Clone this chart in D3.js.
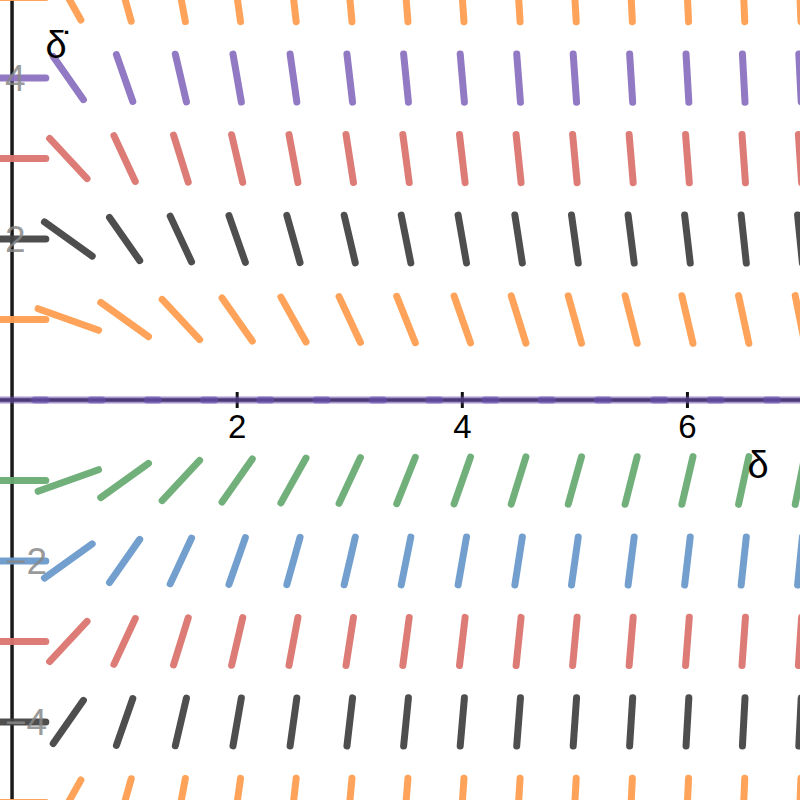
<!DOCTYPE html>
<html>
<head>
<meta charset="utf-8">
<script src="https://cdn.jsdelivr.net/npm/d3@7"></script>
<style>
  body { margin: 0; background: #fff; }
  text { font-family: "Liberation Sans", Arial, sans-serif; }
</style>
</head>
<body>
<svg id="chart" width="800" height="800"></svg>
<script>
// grid of the slope field: d(delta dot)/d(delta) = -delta * deltaDot
const columns = [0, 0.5, 1, 1.5, 2, 2.5, 3, 3.5, 4, 4.5, 5, 5.5, 6, 6.5, 7];
const rows = [5, 4, 3, 2, 1, 0, -1, -2, -3, -4, -5];
const rowColors = ['#fe9e50', '#8b72c0', '#db756f', '#444444', '#fe9e50', '#6a52b0',
                   '#6aac74', '#6a9acb', '#db756f', '#444444', '#fe9e50'];
const xTicks = [2, 4, 6];
const yTicks = [4, 2, -2, -4];

const width = 800, height = 800;
const svg = d3.select('#chart');

const x = d3.scaleLinear().domain([-0.107, 7]).range([0, width]);
const y = d3.scaleLinear().domain([-4.97, 4.97]).range([height, 0]);

const slope = (a, b) => -a * b;
const segLen = 0.6;

// axes
svg.append('line')
    .attr('x1', x(0)).attr('x2', x(0)).attr('y1', 0).attr('y2', height)
    .attr('stroke', '#1a1a1a').attr('stroke-width', 3.5);
svg.append('line')
    .attr('x1', 0).attr('x2', width).attr('y1', y(0)).attr('y2', y(0))
    .attr('stroke', '#1a1a1a').attr('stroke-width', 3.5);

svg.append('g').selectAll('line')
    .data(xTicks).enter().append('line')
    .attr('x1', d => x(d)).attr('x2', d => x(d))
    .attr('y1', y(0) - 8).attr('y2', y(0) + 8)
    .attr('stroke', '#111').attr('stroke-width', 3);

// slope segments
const segs = [];
rows.forEach((r, i) => {
    columns.forEach(c => {
        const s = slope(c, r);
        const n = Math.sqrt(1 + s * s);
        const dx = segLen / 2 / n, dy = segLen / 2 * s / n;
        segs.push({ x1: c - dx, y1: r - dy, x2: c + dx, y2: r + dy, color: rowColors[i], zero: r === 0 });
    });
});

svg.append('g').selectAll('line')
    .data(segs).enter().append('line')
    .attr('x1', d => x(d.x1)).attr('y1', d => y(d.y1))
    .attr('x2', d => x(d.x2)).attr('y2', d => y(d.y2))
    .attr('stroke', d => d.color)
    .attr('stroke-opacity', d => d.zero ? 0.6 : 0.95)
    .attr('stroke-width', 7)
    .attr('stroke-linecap', 'round');

// tick labels
svg.append('g').selectAll('text')
    .data(xTicks).enter().append('text')
    .attr('x', d => x(d)).attr('y', y(0) + 38)
    .attr('text-anchor', 'middle')
    .attr('font-size', 33)
    .attr('fill', '#000')
    .text(d => d);

svg.append('g').selectAll('text')
    .data(yTicks).enter().append('text')
    .attr('x', 5).attr('y', d => y(d) + 13)
    .attr('text-anchor', 'start')
    .attr('font-size', 37)
    .attr('fill', '#888')
    .attr('fill-opacity', 0.85)
    .text(d => d < 0 ? '−' + Math.abs(d) : d);

// axis labels
svg.append('text')
    .attr('x', 758).attr('y', 478)
    .attr('text-anchor', 'middle')
    .attr('font-size', 38)
    .text('δ');
svg.append('text')
    .attr('x', 56).attr('y', 58)
    .attr('text-anchor', 'middle')
    .attr('font-size', 38)
    .text('δ̇');
</script>
</body>
</html>
